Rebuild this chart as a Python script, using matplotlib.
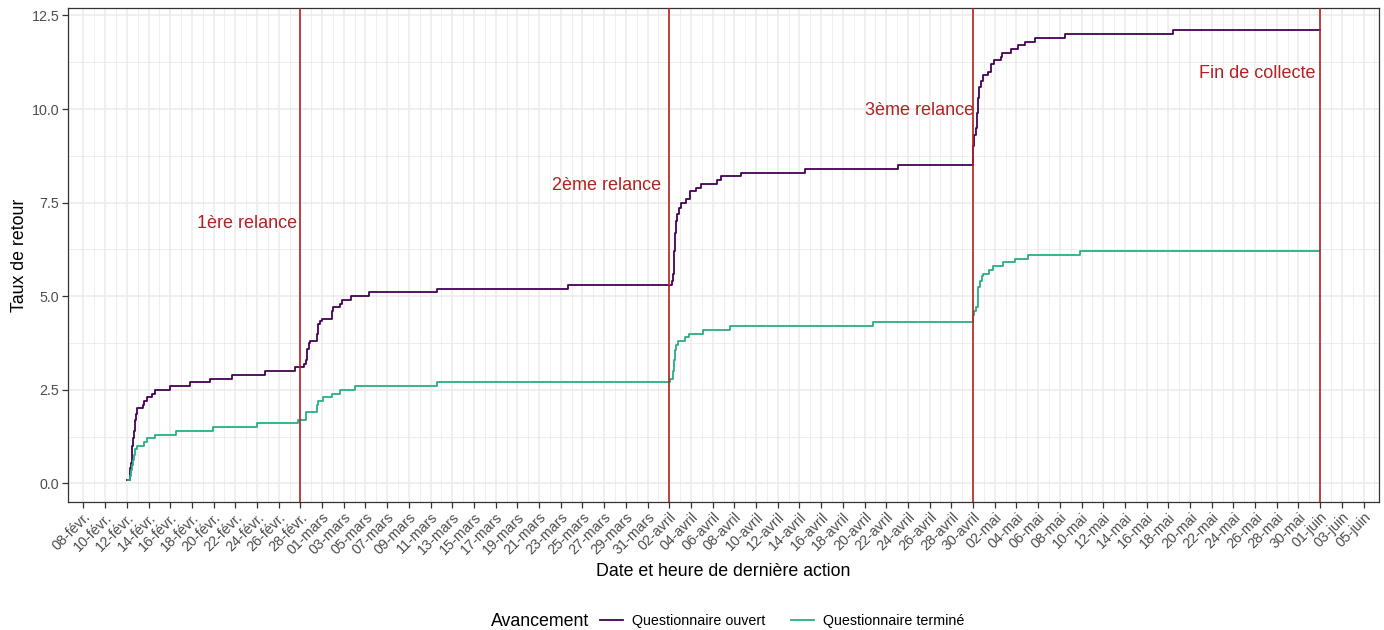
import numpy as np
import pandas as pd
import matplotlib
matplotlib.use("Agg")
import matplotlib.pyplot as plt
from matplotlib.lines import Line2D

plt.rcParams['font.family'] = ['Liberation Sans', 'DejaVu Sans']

# Taux de retour cumulé - questionnaire ouvert (points de changement)
dates_ouvert = [
    "2024-02-12 00:00", "2024-02-12 06:00", "2024-02-12 08:00", "2024-02-12 09:00",
    "2024-02-12 11:00", "2024-02-12 12:00", "2024-02-12 13:00", "2024-02-12 15:00",
    "2024-02-12 17:00", "2024-02-12 19:00", "2024-02-12 21:00", "2024-02-12 23:00",
    "2024-02-13 12:00", "2024-02-13 15:00", "2024-02-13 20:00", "2024-02-14 07:00",
    "2024-02-14 14:00", "2024-02-16 00:00", "2024-02-17 20:00", "2024-02-19 16:00",
    "2024-02-21 17:00", "2024-02-24 18:00", "2024-02-27 12:00",
    "2024-02-28 09:00", "2024-02-28 13:00", "2024-02-28 15:00", "2024-02-28 20:00",
    "2024-02-28 22:00", "2024-02-29 12:00", "2024-02-29 16:00", "2024-02-29 19:00",
    "2024-02-29 23:00", "2024-03-01 21:00", "2024-03-02 01:00", "2024-03-02 15:00",
    "2024-03-02 19:00", "2024-03-03 17:00", "2024-03-05 07:00", "2024-03-11 14:00",
    "2024-03-23 15:00",
    "2024-04-02 05:00", "2024-04-02 08:00", "2024-04-02 10:00", "2024-04-02 12:00",
    "2024-04-02 14:00", "2024-04-02 17:00", "2024-04-02 22:00", "2024-04-03 03:00",
    "2024-04-03 14:00", "2024-04-03 21:00", "2024-04-04 12:00", "2024-04-04 23:00",
    "2024-04-06 10:00", "2024-04-06 19:00", "2024-04-08 15:00", "2024-04-14 13:00",
    "2024-04-23 02:00",
    "2024-04-30 00:00", "2024-04-30 03:00", "2024-04-30 07:00", "2024-04-30 09:00",
    "2024-04-30 11:00", "2024-04-30 14:00", "2024-04-30 18:00", "2024-04-30 23:00",
    "2024-05-01 09:00", "2024-05-01 16:00", "2024-05-01 22:00", "2024-05-02 14:00",
    "2024-05-02 16:00", "2024-05-03 12:00", "2024-05-04 04:00", "2024-05-04 18:00",
    "2024-05-05 17:00", "2024-05-08 12:00", "2024-05-18 10:00", "2024-06-01 00:00",
]
taux_ouvert = [
    0.1, 0.2, 0.4, 0.55,
    0.8, 1.0, 1.2, 1.4,
    1.55, 1.7, 1.85, 2.0,
    2.1, 2.2, 2.3, 2.4,
    2.5, 2.6, 2.7, 2.8,
    2.9, 3.0, 3.1,
    3.2, 3.3, 3.6, 3.75,
    3.8, 4.0, 4.25, 4.35,
    4.4, 4.6, 4.7, 4.8,
    4.9, 5.0, 5.1, 5.2,
    5.3,
    5.4, 5.6, 6.2, 6.7,
    7.0, 7.2, 7.35, 7.5,
    7.6, 7.8, 7.9, 8.0,
    8.1, 8.2, 8.3, 8.4,
    8.5,
    9.0, 9.3, 9.5, 9.9,
    10.3, 10.6, 10.75, 10.9,
    11.0, 11.2, 11.3, 11.4,
    11.5, 11.6, 11.7, 11.8,
    11.9, 12.0, 12.1, 12.1,
]

# Taux de retour cumulé - questionnaire terminé
dates_termine = [
    "2024-02-12 02:00", "2024-02-12 07:00", "2024-02-12 09:00", "2024-02-12 11:00",
    "2024-02-12 13:00", "2024-02-12 15:00", "2024-02-12 17:00", "2024-02-12 19:00",
    "2024-02-12 22:00", "2024-02-13 14:00", "2024-02-13 20:00", "2024-02-14 14:00",
    "2024-02-16 13:00", "2024-02-19 22:00", "2024-02-24 01:00", "2024-02-27 19:00",
    "2024-02-28 12:00", "2024-02-29 12:00", "2024-02-29 16:00", "2024-03-01 03:00",
    "2024-03-01 21:00", "2024-03-02 15:00", "2024-03-04 01:00", "2024-03-11 15:00",
    "2024-04-02 01:00", "2024-04-02 09:00", "2024-04-02 11:00", "2024-04-02 13:00",
    "2024-04-02 16:00", "2024-04-02 19:00", "2024-04-03 10:00", "2024-04-03 20:00",
    "2024-04-05 02:00", "2024-04-07 15:00", "2024-04-20 18:00",
    "2024-04-30 01:00", "2024-04-30 03:00", "2024-04-30 07:00", "2024-04-30 10:00",
    "2024-04-30 12:00", "2024-04-30 16:00", "2024-04-30 19:00", "2024-04-30 22:00",
    "2024-05-01 12:00", "2024-05-01 20:00", "2024-05-02 18:00", "2024-05-03 21:00",
    "2024-05-05 01:00", "2024-05-09 21:00", "2024-06-01 00:00",
]
taux_termine = [
    0.1, 0.2, 0.35, 0.5,
    0.62, 0.75, 0.85, 0.92,
    1.0, 1.1, 1.2, 1.3,
    1.4, 1.5, 1.6, 1.7,
    1.9, 2.1, 2.2, 2.3,
    2.4, 2.5, 2.6, 2.7,
    2.8, 3.0, 3.3, 3.55,
    3.7, 3.8, 3.9, 4.0,
    4.1, 4.2, 4.3,
    4.5, 4.6, 4.7, 5.0,
    5.25, 5.4, 5.55, 5.6,
    5.7, 5.8, 5.9, 6.0,
    6.1, 6.2, 6.2,
]

# Relances et fin de collecte
dates_relances = ["2024-02-28", "2024-04-02", "2024-04-30", "2024-06-01"]
labels_relances = ["1ère relance", "2ème relance", "3ème relance", "Fin de collecte"]
dates_labels = ["2024-02-27 17:00", "2024-04-01 05:00", "2024-04-30 03:00", "2024-05-31 13:00"]
y_labels = [6.95, 7.95, 9.95, 10.95]

mois_fr = {1: "janv.", 2: "févr.", 3: "mars", 4: "avril", 5: "mai", 6: "juin"}

col_ouvert = "#440154"
col_termine = "#29AF7F"
col_rouge = "#B22222"

fig = plt.figure(figsize=(13.84, 6.3), dpi=100)
ax = fig.add_axes([67.7 / 1384, 1 - 501.7 / 630, (1379.3 - 67.7) / 1384, (501.7 - 8.3) / 630])

x_o = pd.to_datetime(dates_ouvert)
x_t = pd.to_datetime(dates_termine)
ax.plot(x_o, taux_ouvert, drawstyle="steps-post", color=col_ouvert, lw=1.3, zorder=3)
ax.plot(x_t, taux_termine, drawstyle="steps-post", color=col_termine, lw=1.3, zorder=3)

for d in pd.to_datetime(dates_relances):
    ax.axvline(d, color=col_rouge, lw=1.2, zorder=4)
for lab, d, y in zip(labels_relances, pd.to_datetime(dates_labels), y_labels):
    ax.text(d, y, lab, color=col_rouge, fontsize=13, ha="right", va="center", zorder=5)

# axes
debut = pd.Timestamp("2024-02-08")
ax.set_xlim(debut - pd.Timedelta(days=1.45), debut + pd.Timedelta(days=119.45))
ax.set_ylim(-0.49, 12.69)

ticks = pd.date_range("2024-02-08", "2024-06-05", freq="2D")
ax.set_xticks(ticks)
ax.set_xticklabels([f"{t.day:02d}-{mois_fr[t.month]}" for t in ticks],
                   rotation=45, ha="right", va="top", rotation_mode="anchor")
ax.set_xticks(ticks + pd.Timedelta(days=1), minor=True)
ax.set_yticks(np.arange(0, 12.6, 2.5))
ax.set_yticklabels([f"{v:.1f}" for v in np.arange(0, 12.6, 2.5)])
ax.set_yticks(np.arange(1.25, 12.6, 2.5), minor=True)

ax.grid(True, which="major", color="#EBEBEB", lw=1.1, zorder=0)
ax.grid(True, which="minor", color="#EBEBEB", lw=0.6, zorder=0)
ax.set_axisbelow(True)
for s in ax.spines.values():
    s.set_color("#333333")
    s.set_linewidth(0.9)
ax.tick_params(which="major", length=4, width=0.9, color="#333333",
               labelsize=10.3, labelcolor="#4D4D4D", pad=2)
ax.tick_params(which="minor", length=0)

ax.set_xlabel("Date et heure de dernière action", fontsize=12.8, labelpad=4)
ax.set_ylabel("Taux de retour", fontsize=12.8, labelpad=2.5)

# légende
fig.text(491 / 1384, 1 - 621 / 630, "Avancement", fontsize=12.8, ha="left", va="center")
handles = [Line2D([], [], color=col_ouvert, lw=1.3), Line2D([], [], color=col_termine, lw=1.3)]
fig.legend(handles, ["Questionnaire ouvert", "Questionnaire terminé"], ncol=2,
           loc="center left", bbox_to_anchor=(600 / 1384, 1 - 621 / 630),
           frameon=False, fontsize=10.3, handlelength=1.6, handletextpad=0.65,
           columnspacing=1.8, borderpad=0, borderaxespad=0)

fig.savefig("out.png", dpi=100)
